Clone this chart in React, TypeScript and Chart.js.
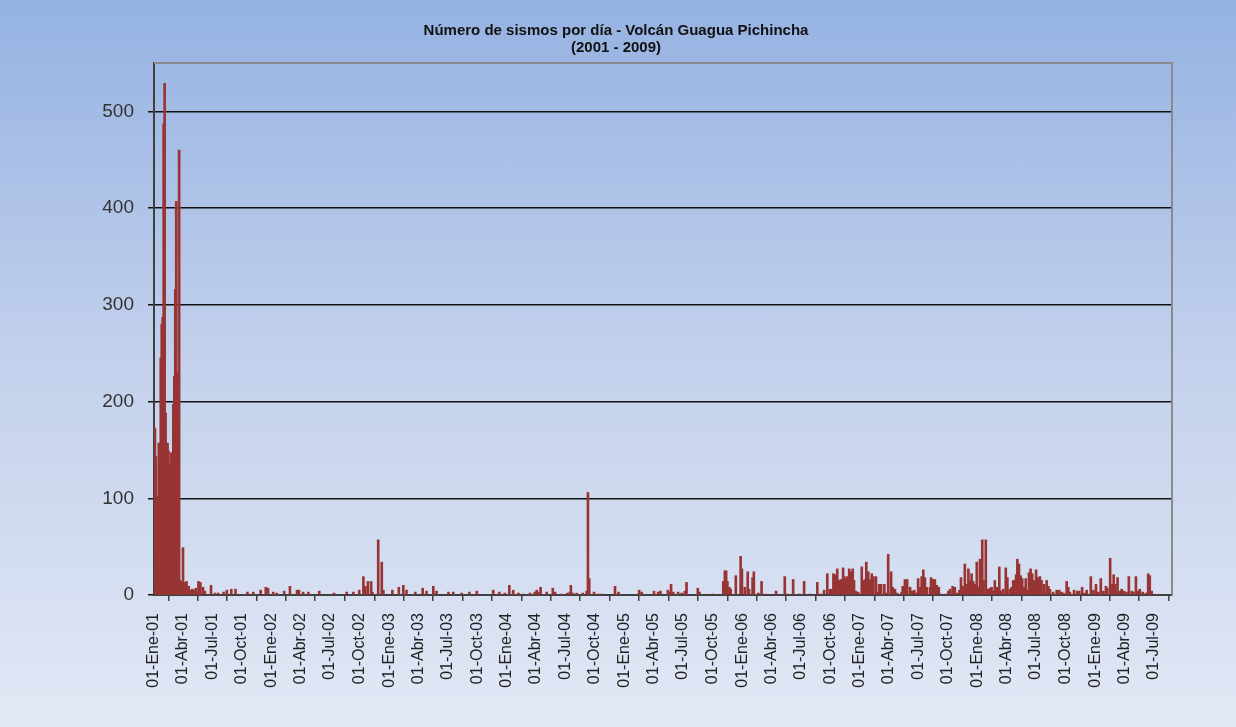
import React, { useEffect, useRef } from 'react';
import { Chart, registerables } from 'chart.js';

Chart.register(...registerables);

const titleLines = ['Número de sismos por día - Volcán Guagua Pichincha', '(2001 - 2009)'];

const tickLabels = [
  '01-Ene-01', '01-Abr-01', '01-Jul-01', '01-Oct-01',
  '01-Ene-02', '01-Abr-02', '01-Jul-02', '01-Oct-02',
  '01-Ene-03', '01-Abr-03', '01-Jul-03', '01-Oct-03',
  '01-Ene-04', '01-Abr-04', '01-Jul-04', '01-Oct-04',
  '01-Ene-05', '01-Abr-05', '01-Jul-05', '01-Oct-05',
  '01-Ene-06', '01-Abr-06', '01-Jul-06', '01-Oct-06',
  '01-Ene-07', '01-Abr-07', '01-Jul-07', '01-Oct-07',
  '01-Ene-08', '01-Abr-08', '01-Jul-08', '01-Oct-08',
  '01-Ene-09', '01-Abr-09', '01-Jul-09',
];

const yTicks = [0, 100, 200, 300, 400, 500];

// days since 01-Ene-2001
const dayOffsets = [
  0, 3, 6, 9, 12, 15, 18, 21, 24, 27, 30, 33, 36, 39, 42, 45, 48, 51, 54, 57, 60, 63, 66, 69, 72, 75, 78, 81, 84, 87, 90, 93, 96,
  101, 108, 113, 119, 125, 130, 138, 144, 152, 158, 177, 189, 199, 216, 226, 240, 253, 290, 308, 331, 347, 354, 370, 381, 404,
  422, 444, 450, 463, 479, 513, 559, 598, 619, 637, 650, 656, 664, 674, 678, 696, 707, 712, 740, 760, 774, 784, 811, 834, 846,
  867, 877, 914, 929, 955, 979, 1002, 1053, 1072, 1089, 1103, 1115, 1131,
  1145, 1167, 1182, 1188, 1193, 1200, 1219, 1238, 1245, 1265, 1283, 1291, 1294, 1300, 1312, 1331, 1343, 1347, 1351, 1366, 1379,
  1390, 1431, 1442, 1503, 1506, 1514, 1552, 1565, 1572, 1595, 1600, 1605, 1612, 1627, 1638, 1648, 1653, 1688, 1693, 1734,
  1767, 1772, 1776, 1780, 1786, 1790, 1806, 1821, 1825, 1834, 1843, 1847, 1858, 1862, 1876, 1886, 1897, 1931, 1958, 1966, 1984,
  2003, 2018, 2036, 2059, 2070, 2080,
  2090, 2098, 2104, 2109, 2114, 2117, 2121, 2126, 2132, 2135, 2139, 2143, 2148, 2152, 2158, 2163, 2169, 2173, 2178, 2186, 2197,
  2202, 2207, 2211, 2217, 2223, 2228, 2233, 2241, 2245, 2251, 2257, 2267, 2271, 2279, 2288, 2293, 2300, 2307, 2321, 2324, 2331,
  2338, 2347, 2352, 2360, 2365, 2372, 2378, 2383, 2388, 2393, 2399, 2409, 2412, 2419, 2424, 2430, 2436, 2443, 2458, 2466, 2471,
  2479, 2486, 2492, 2500, 2505, 2510, 2517, 2523, 2528, 2533, 2538, 2543, 2548, 2554, 2559, 2564, 2568, 2571, 2575, 2582, 2588,
  2595, 2600, 2605, 2610, 2616, 2624, 2629, 2636, 2644, 2649, 2657, 2662, 2667, 2673, 2676, 2680, 2685, 2690, 2695, 2700, 2706,
  2711, 2716, 2721, 2726, 2732, 2738, 2743, 2750, 2755, 2763, 2771, 2776, 2781, 2791, 2802, 2810, 2817, 2823, 2833, 2838, 2843,
  2856, 2866, 2872, 2881, 2888, 2895, 2908, 2916, 2924, 2931, 2939, 2947, 2955, 2959, 2968, 2975, 2979, 2984, 2991, 2998, 3004,
  3011, 3019, 3026, 3035, 3040, 3048, 3055, 3060, 3069, 3079, 3086, 3091, 3097,
];

const dailyCounts = [
  174, 172, 143, 102, 102, 157, 157, 245, 280, 287, 487, 529, 188, 157, 157, 149, 136, 136, 147, 147, 197, 226, 316, 407, 230, 230, 460, 15, 14, 13, 49, 12, 13,
  14, 9, 5, 6, 5, 7, 14, 13, 8, 4, 10, 2, 2, 3, 5, 6, 6, 3, 3, 5, 8, 7, 3, 2, 4,
  9, 5, 5, 3, 3, 4, 2, 3, 3, 5, 19, 9, 14, 14, 3, 57, 34, 5, 5, 8, 10, 5, 3, 7, 4,
  9, 4, 3, 3, 2, 3, 4, 5, 3, 2, 10, 5, 2,
  1, 2, 3, 5, 3, 8, 3, 7, 3, 1, 2, 3, 10, 2, 2, 2, 4, 106, 17, 3, 1,
  1, 9, 3, 1, 5, 3, 4, 3, 4, 5, 3, 11, 3, 3, 2, 4, 13, 7, 3, 1,
  14, 25, 25, 14, 8, 6, 20, 40, 27, 8, 24, 6, 18, 24, 2, 14, 1, 4, 19, 1, 16,
  1, 14, 1, 13, 1, 5,
  22, 6, 6, 22, 21, 18, 27, 15, 16, 5, 28, 19, 16, 19, 27, 24, 27, 15, 4, 3, 29,
  15, 16, 34, 24, 16, 22, 19, 19, 3, 11, 11, 11, 2, 42, 24, 8, 6, 2, 3, 9, 16,
  16, 8, 4, 5, 2, 17, 8, 19, 26, 18, 8, 8, 18, 16, 16, 10, 8, 1, 1, 4, 6,
  9, 8, 2, 5, 18, 9, 32, 11, 27, 15, 22, 14, 11, 34, 8, 37, 29, 57, 15, 57, 6,
  7, 8, 4, 15, 8, 29, 4, 6, 28, 18, 6, 8, 15, 15, 21, 37, 32, 20, 17, 8, 17,
  5, 23, 27, 22, 15, 26, 18, 19, 15, 11, 15, 9, 6, 3, 5, 5, 3, 2, 14, 8, 3,
  5, 4, 4, 8, 2, 5, 19, 5, 11, 3, 17, 4, 9, 7, 38, 11, 21, 11, 18, 4, 6,
  4, 3, 19, 4, 3, 19, 4, 6, 3, 2, 22, 20, 4,
];

const monthIndex: Record<string, number> = { Ene: 0, Abr: 3, Jul: 6, Oct: 9 };
const tickDays = tickLabels.map((lbl) => {
  const parts = lbl.split('-');
  const m = monthIndex[parts[1]];
  const y = 2000 + parseInt(parts[2], 10);
  return Math.round((Date.UTC(y, m, 1) - Date.UTC(2001, 0, 1)) / 86400000);
});

const X_MAX = 3160;
const FONT = '"Liberation Sans", Arial, sans-serif';

export default function App() {
  const ref = useRef<HTMLCanvasElement | null>(null);

  useEffect(() => {
    const canvas = ref.current;
    if (!canvas) return;
    const points = dayOffsets.map((d, i) => ({ x: d, y: dailyCounts[i] }));

    const framePlugin = {
      id: 'frameAndTitle',
      afterDraw(chart: any) {
        const { ctx, chartArea } = chart;
        ctx.save();
        ctx.strokeStyle = '#8a8a8a';
        ctx.lineWidth = 2;
        ctx.beginPath();
        ctx.moveTo(chartArea.left, chartArea.top);
        ctx.lineTo(chartArea.right, chartArea.top);
        ctx.lineTo(chartArea.right, chartArea.bottom);
        ctx.stroke();
        ctx.fillStyle = '#111';
        ctx.font = 'bold 15px ' + FONT;
        ctx.textAlign = 'center';
        ctx.textBaseline = 'middle';
        ctx.fillText(titleLines[0], 616, 31);
        ctx.fillText(titleLines[1], 616, 48);
        ctx.restore();
      },
    };

    const chart = new Chart(canvas, {
      type: 'bar',
      data: {
        datasets: [
          {
            data: points as any,
            backgroundColor: '#983434',
            borderWidth: 0,
            barThickness: 2,
            grouped: false,
          } as any,
        ],
      },
      options: {
        animation: false,
        responsive: false,
        maintainAspectRatio: false,
        layout: { padding: { top: 63, right: 64, left: 0, bottom: 0 } },
        plugins: {
          legend: { display: false },
          tooltip: { enabled: false },
          title: { display: false },
        },
        scales: {
          x: {
            type: 'linear',
            min: 0,
            max: X_MAX,
            offset: false,
            afterBuildTicks: (axis: any) => {
              axis.ticks = tickDays.map((v) => ({ value: v }));
            },
            afterFit: (axis: any) => {
              axis.height = 132;
            },
            ticks: {
              autoSkip: false,
              maxRotation: 90,
              minRotation: 90,
              padding: 12,
              color: '#222',
              font: { family: FONT, size: 16 },
              callback: (_v: any, i: number) => tickLabels[i],
            },
            grid: { drawOnChartArea: false, drawTicks: true, tickLength: 6, color: '#404040', lineWidth: 1.5 },
            border: { color: '#404040', width: 2 },
          },
          y: {
            min: 0,
            max: 550,
            afterBuildTicks: (axis: any) => {
              axis.ticks = yTicks.map((v) => ({ value: v }));
            },
            afterFit: (axis: any) => {
              axis.width = 154;
            },
            ticks: {
              padding: 14,
              color: '#333',
              font: { family: FONT, size: 19 },
            },
            grid: { color: '#111', lineWidth: 1.5, tickLength: 6, drawTicks: true },
            border: { color: '#404040', width: 2 },
          },
        },
      } as any,
      plugins: [framePlugin],
    });

    return () => chart.destroy();
  }, []);

  return (
    <div
      style={{
        position: 'fixed',
        left: 0,
        top: 0,
        width: 1236,
        height: 727,
        background: 'linear-gradient(to bottom, #95b2e2 0%, #c3d1ec 50%, #e2e8f5 100%)',
      }}
    >
      <canvas ref={ref} width={1236} height={727} style={{ width: 1236, height: 727, display: 'block' }} />
    </div>
  );
}
